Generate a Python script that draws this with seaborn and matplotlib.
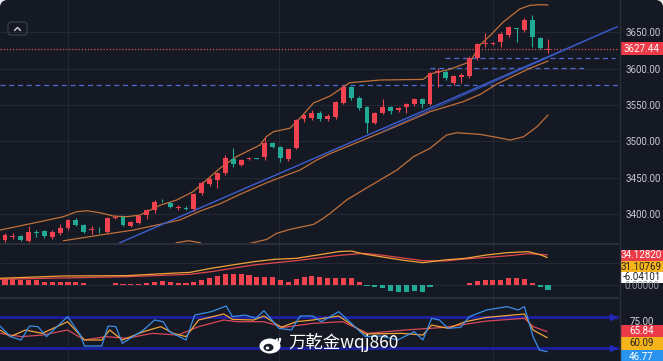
import numpy as np
import pandas as pd
import seaborn as sns
import matplotlib.pyplot as plt
from matplotlib.patches import Rectangle, FancyBboxPatch, Ellipse, Arc, Circle

W, H = 663, 361
BG = '#151924'
GRID = '#242834'
SEP = '#2a2e39'
UP = '#f0434f'
DOWN = '#22ab94'
BAND = '#c0703a'
TXT = '#c8cad0'

# candles, red = rising, green = falling
opens = [3364.1, 3369.0, 3369.6, 3363.2, 3375.2, 3376.5, 3368.7, 3373.3, 3380.2, 3391.7,
         3384.8, 3378.4, 3378.3, 3375.6, 3394.6, 3396.3, 3383.9, 3388.0, 3398.5, 3405.4,
         3418.2, 3415.5, 3408.8, 3408.2, 3406.3, 3428.4, 3441.2, 3446.7, 3455.9, 3475.1,
         3467.3, 3476.0, 3477.0, 3477.9, 3497.2, 3492.6, 3475.1, 3490.3, 3530.2, 3531.6,
         3538.4, 3530.2, 3533.0, 3553.1, 3574.2, 3560.0, 3546.7, 3525.6, 3538.4, 3546.7,
         3543.0, 3546.7, 3550.8, 3557.7, 3551.3, 3594.4, 3595.8, 3580.6, 3589.0, 3589.8,
         3614.1, 3634.0, 3633.8, 3637.1, 3646.2, 3655.8, 3653.1, 3666.9, 3642.6, 3625.6]
closes = [3371.0, 3370.0, 3364.1, 3375.6, 3374.4, 3369.6, 3375.6, 3381.1, 3391.7, 3384.8,
          3375.6, 3379.2, 3377.5, 3394.0, 3395.8, 3384.8, 3389.4, 3397.2, 3405.4, 3416.9,
          3417.4, 3409.1, 3409.6, 3407.3, 3427.0, 3442.1, 3448.1, 3455.9, 3476.5, 3468.7,
          3474.2, 3477.0, 3476.2, 3497.2, 3492.6, 3476.5, 3488.9, 3529.3, 3536.2, 3539.4,
          3530.6, 3534.8, 3554.5, 3574.2, 3559.1, 3545.3, 3524.7, 3539.4, 3546.7, 3542.1,
          3545.3, 3551.3, 3557.7, 3551.3, 3594.4, 3597.2, 3586.6, 3589.8, 3591.2, 3614.1,
          3633.9, 3635.2, 3634.8, 3647.6, 3656.8, 3655.0, 3666.9, 3643.0, 3628.8, 3627.44]
highs = [3373.3, 3374.5, 3371.0, 3383.4, 3378.0, 3378.5, 3378.0, 3386.2, 3393.0, 3394.0,
         3386.0, 3383.5, 3382.0, 3396.0, 3397.0, 3397.5, 3391.0, 3399.0, 3407.0, 3419.0,
         3421.0, 3417.0, 3412.5, 3411.0, 3429.0, 3445.5, 3451.0, 3458.0, 3481.0, 3490.3,
         3476.0, 3479.0, 3477.5, 3506.3, 3499.0, 3494.0, 3490.0, 3531.0, 3538.0, 3543.0,
         3542.0, 3537.0, 3556.0, 3577.0, 3576.0, 3562.0, 3548.0, 3541.0, 3557.7, 3548.0,
         3547.0, 3553.0, 3560.0, 3559.0, 3596.0, 3600.4, 3598.0, 3591.5, 3594.0, 3618.0,
         3635.5, 3648.5, 3636.5, 3650.0, 3659.0, 3656.5, 3669.0, 3673.8, 3644.0, 3640.3]
lows = [3361.8, 3365.0, 3362.5, 3361.0, 3367.8, 3367.0, 3366.0, 3371.0, 3378.0, 3383.0,
        3374.0, 3373.0, 3373.5, 3374.0, 3393.0, 3383.5, 3382.0, 3386.0, 3393.0, 3402.0,
        3416.0, 3408.0, 3405.5, 3406.0, 3404.0, 3426.0, 3439.0, 3435.2, 3454.0, 3465.1,
        3466.0, 3474.5, 3475.5, 3474.2, 3491.0, 3472.0, 3473.5, 3489.0, 3527.0, 3530.0,
        3528.5, 3528.0, 3531.0, 3551.0, 3557.5, 3543.0, 3510.9, 3524.0, 3537.0, 3538.0,
        3541.0, 3539.0, 3548.0, 3546.0, 3549.5, 3574.2, 3585.0, 3577.0, 3580.0, 3587.0,
        3612.0, 3630.2, 3632.5, 3630.2, 3644.0, 3637.1, 3651.0, 3629.3, 3627.5, 3621.0]

# bollinger bands read at sample points (bar index, price)
bb_up_x = [-0.64, 4.45, 7.41, 9.11, 10.4, 12.07, 13.77, 15.46, 17.15, 19.7, 21.8, 23.9, 27.3,
           29.4, 32.4, 33.2, 34.1, 36.2, 37.5, 39.2, 41.3, 43.8, 47.65, 53.15, 54.0, 56.5,
           59.1, 60.4, 61.6, 63.3, 65.4, 66.7, 68.0, 69.0]
bb_up_y = [3377.9, 3389.4, 3396.3, 3403.1, 3404.5, 3401.7, 3397.2, 3396.3, 3398.5, 3412.0,
           3419.2, 3430.7, 3462.8, 3478.8, 3494.9, 3506.3, 3513.2, 3517.9, 3532.0, 3552.7,
           3562.3, 3580.6, 3584.3, 3585.2, 3592.6, 3599.0, 3609.5, 3633.0, 3645.0, 3664.0,
           3682.0, 3687.0, 3688.0, 3687.5]
bb_mid_x = [7.41, 12.07, 16.3, 19.27, 22.2, 24.8, 27.3, 29.85, 33.25, 35.4, 37.5, 39.6, 41.3,
            45.5, 49.8, 54.0, 58.2, 60.4, 62.5, 64.6, 66.7, 69.0]
bb_mid_y = [3363.2, 3371.0, 3377.9, 3384.8, 3391.7, 3404.0, 3414.0, 3427.0, 3443.0, 3452.0,
            3460.5, 3474.2, 3483.0, 3501.7, 3521.0, 3540.7, 3554.5, 3564.6, 3578.8, 3589.8,
            3600.4, 3610.5]
bb_low_x = [20.5, 21.8, 23.3, 24.8, 26.0, 28.5, 31.1, 33.25, 34.5, 36.2, 39.2, 40.45, 41.3,
            43.4, 45.5, 47.65, 49.8, 51.9, 54.0, 55.3, 56.1, 57.4, 60.4, 62.5, 64.2, 65.9,
            67.6, 69.0]
bb_low_y = [3352.0, 3360.5, 3363.2, 3360.5, 3352.0, 3345.0, 3359.5, 3365.0, 3373.3, 3378.8,
            3385.7, 3394.0, 3400.8, 3419.2, 3433.0, 3446.7, 3460.5, 3478.8, 3490.3, 3501.7,
            3508.6, 3511.8, 3509.5, 3505.4, 3501.7, 3506.3, 3520.1, 3536.2]

trend_x = [14.4, 77.8]
trend_y = [3359.5, 3657.7]
trend2_x = [48.0, 77.8]
trend2_y = [3514.0, 3657.7]

last_price = 3627.44
price_ticks = [3400, 3450, 3500, 3550, 3600, 3650]

# MACD
macd_hist = [7.2, 7.2, 5.7, 5.7, 5.7, 3.8, 3.8, 3.8, 3.8, 3.8,
             1.9, 0.4, -0.3, 0.4, 1.9, 0.8, 0.8, 0.8, 1.9, 3.8,
             4.5, 3.8, 1.9, 1.9, 3.4, 5.7, 7.6, 10.2, 12.1, 12.1,
             12.1, 11.3, 9.5, 9.5, 9.5, 5.7, 3.8, 6.4, 9.5, 10.2,
             9.5, 7.6, 7.6, 8.3, 7.6, 3.8, -1.1, -1.9, -3.8, -6.8,
             -7.6, -7.6, -6.8, -7.6, -1.9, -0.4, -0.4, -0.2, 0.4, 1.9,
             4.5, 5.7, 5.7, 5.7, 7.6, 7.6, 6.4, 2.6, -1.9, -6.04101]
dif_x = [-0.64, 7.42, 15.5, 20.9, 23.5, 26.2, 28.9, 31.6, 34.3, 37.0, 39.7, 42.4, 44.0, 45.6,
         47.7, 50.4, 53.1, 55.8, 58.5, 61.2, 63.8, 66.5, 68.1, 68.9]
dif_y = [7.6, 10.2, 10.6, 13.2, 14.3, 18.9, 22.7, 26.4, 29.1, 30.2, 34.0, 37.8, 38.5, 35.1,
         32.1, 28.3, 25.3, 28.3, 30.2, 34.0, 36.6, 37.8, 34.0, 31.10769]
dea_x = [-0.64, 15.5, 23.5, 26.2, 31.6, 37.0, 42.4, 45.6, 47.7, 53.1, 55.8, 58.5, 63.8, 66.5, 68.9]
dea_y = [6.5, 9.4, 12.1, 15.1, 22.7, 27.6, 33.5, 35.9, 34.0, 27.6, 27.2, 29.5, 33.0, 35.5, 34.1282]

# KDJ
j_x = [-0.64, 0.71, 2.05, 3.12, 4.2, 5.27, 7.96, 9.57, 10.1, 12.3, 13.1, 14.1, 14.9, 17.6, 19.0,
       20.1, 20.9, 23.0, 24.1, 26.2, 28.1, 28.9, 30.5, 31.9, 32.9, 34.8, 36.4, 37.5, 39.1, 40.2,
       42.4, 44.0, 45.8, 47.7, 49.9, 52.0, 53.1, 54.2, 55.2, 56.3, 57.9, 59.0, 61.2, 63.8, 65.2,
       66.0, 67.1, 67.9, 68.9]
j_y = [71.2, 61.1, 57.9, 71.2, 70.6, 61.1, 80.1, 62.6, 52.2, 52.2, 71.2, 70.6, 54.7, 67.4, 76.9,
       75.3, 65.8, 57.9, 81.6, 84.8, 90.2, 80.1, 81.6, 78.5, 85.8, 69.0, 67.4, 80.7, 80.7, 75.3,
       84.8, 73.7, 61.1, 61.7, 57.9, 65.8, 57.9, 78.5, 76.9, 69.0, 69.9, 80.1, 86.4, 89.6, 86.4,
       89.6, 61.1, 48.4, 46.77]
k_x = [-0.64, 0.71, 2.59, 4.74, 7.96, 10.1, 12.3, 13.3, 14.9, 17.6, 19.8, 21.4, 23.0, 24.6, 27.8,
       28.9, 31.6, 32.9, 35.1, 37.0, 39.1, 42.4, 45.8, 50.4, 53.1, 54.2, 56.3, 58.5, 61.2, 66.0,
       67.1, 68.9]
k_y = [67.4, 61.1, 67.4, 64.2, 75.3, 57.9, 57.9, 67.4, 57.9, 65.8, 70.6, 64.2, 61.1, 76.9, 82.6,
       77.5, 76.9, 80.7, 69.9, 75.3, 76.9, 80.7, 63.6, 64.2, 62.6, 72.1, 69.0, 75.3, 79.4, 82.6,
       67.4, 60.09]
d_x = [-0.64, 2.05, 4.74, 7.96, 10.1, 12.8, 15.5, 18.7, 22.0, 24.6, 27.8, 29.5, 32.9, 35.4, 39.1,
       42.9, 46.1, 50.9, 55.8, 61.2, 66.0, 67.1, 68.9]
d_y = [64.2, 61.1, 62.6, 67.4, 57.9, 61.1, 59.5, 64.2, 62.6, 70.6, 76.9, 75.3, 75.3, 69.9, 73.7,
       75.3, 64.2, 67.4, 69.9, 75.9, 78.5, 70.6, 65.84]
kdj_levels = [80, 50]

sns.set_theme(style='dark', rc={'axes.facecolor': BG, 'figure.facecolor': BG})
plt.rcParams['font.family'] = ['Roboto', 'Noto Sans CJK SC', 'DejaVu Sans']

df = pd.DataFrame({'open': opens, 'high': highs, 'low': lows, 'close': closes})
df['idx'] = np.arange(len(df))
df['up'] = df['close'] >= df['open']


def px_to_idx(x):
    return (x - 5) / 7.87


fig = plt.figure(figsize=(W / 100, H / 100), dpi=100)
ax = fig.add_axes([0, 118 / H, 619 / W, 243 / H])
ax_m = fig.add_axes([0, 64 / H, 619 / W, 52 / H])
ax_k = fig.add_axes([0, 0, 619 / W, 62 / H])
xlim = (px_to_idx(0), px_to_idx(619))

# ---- main price panel
for yv in price_ticks:
    ax.axhline(yv, color=GRID, lw=0.8, zorder=0)
for a in (ax, ax_m, ax_k):
    for xv in (8.0, 34.8, 62.0):
        a.axvline(xv, color=GRID, lw=0.8, zorder=0)

ax.axhline(last_price, color='#d9534f', lw=0.9, ls=(0, (1, 1.5)), zorder=1)
ax.axhline(3577.5, color='#4d6bd0', lw=0.9, ls=(0, (4, 3)), zorder=1)
ax.hlines(3615, px_to_idx(445), px_to_idx(615), color='#4d6bd0', lw=0.9, ls=(0, (4, 3)), zorder=1)
ax.hlines(3600.5, px_to_idx(430), px_to_idx(585), color='#4d6bd0', lw=0.9, ls=(0, (4, 3)), zorder=1)

sns.lineplot(x=bb_up_x, y=bb_up_y, ax=ax, color=BAND, lw=0.9, estimator=None, sort=False)
sns.lineplot(x=bb_mid_x, y=bb_mid_y, ax=ax, color=BAND, lw=0.9, estimator=None, sort=False)
sns.lineplot(x=bb_low_x, y=bb_low_y, ax=ax, color=BAND, lw=0.9, estimator=None, sort=False)
sns.lineplot(x=trend_x, y=trend_y, ax=ax, color='#3f5fd0', lw=1.0, estimator=None, sort=False)
sns.lineplot(x=trend2_x, y=trend2_y, ax=ax, color='#3552b8', lw=0.7, estimator=None, sort=False)

colors = np.where(df['up'], UP, DOWN)
ax.vlines(df['idx'], df['low'], df['high'], colors=colors, lw=0.8, zorder=3)
body = (df['close'] - df['open']).abs().clip(lower=0.9)
ax.bar(df['idx'], body, bottom=df[['open', 'close']].min(axis=1), width=0.62,
       color=colors, zorder=4, linewidth=0)

ax.set_xlim(*xlim)
ax.set_ylim(3360.1, 3694.4)
ax.yaxis.tick_right()
ax.set_yticks(price_ticks)
ax.set_yticklabels([f'{v:.2f}' for v in price_ticks])
ax.tick_params(axis='y', length=0, pad=5, labelsize=7, labelcolor=TXT)
ax.set_xticks([])
ax.set_xlabel('')
ax.set_ylabel('')

# ---- MACD panel
ax_m.axhline(0, color=GRID, lw=0.8, zorder=0)
ax_m.axhline(25, color=GRID, lw=0.8, zorder=0)
hist_colors = [UP if v >= 0 else DOWN for v in macd_hist]
ax_m.bar(np.arange(len(macd_hist)), macd_hist, width=0.65, color=hist_colors, linewidth=0, zorder=2)
sns.lineplot(x=dea_x, y=dea_y, ax=ax_m, color='#e0484d', lw=0.9, estimator=None, sort=False)
sns.lineplot(x=dif_x, y=dif_y, ax=ax_m, color='#f2a33a', lw=0.9, estimator=None, sort=False)
ax_m.set_xlim(*xlim)
ax_m.set_ylim(-13.6, 45.3)

# ---- KDJ panel
for lv in kdj_levels:
    ax_k.axhline(lv, color='#1b2098', lw=2.2, zorder=1)
    ax_k.plot([px_to_idx(613)], [lv], marker='>', ms=4, color='#2328b8', zorder=2)
sns.lineplot(x=d_x, y=d_y, ax=ax_k, color='#d9485a', lw=0.9, estimator=None, sort=False)
sns.lineplot(x=k_x, y=k_y, ax=ax_k, color='#f2a33a', lw=0.9, estimator=None, sort=False)
sns.lineplot(x=j_x, y=j_y, ax=ax_k, color='#3a8ee8', lw=0.9, estimator=None, sort=False)
ax_k.set_xlim(*xlim)
ax_k.set_ylim(37.95, 96.85)

for a in (ax, ax_m, ax_k):
    for s in a.spines.values():
        s.set_visible(False)
for a in (ax_m, ax_k):
    a.set_xticks([])
    a.set_yticks([])
    a.set_xlabel('')
    a.set_ylabel('')

# ---- overlay in pixel coordinates
ov = fig.add_axes([0, 0, 1, 1], zorder=10)
ov.set_xlim(0, W)
ov.set_ylim(H, 0)
ov.axis('off')
ov.patch.set_alpha(0)

ov.add_patch(Rectangle((0, 243), 619, 2, color=SEP, lw=0))
ov.add_patch(Rectangle((0, 297), 619, 2, color=SEP, lw=0))
ov.plot([619.5, 619.5], [0, H], color=SEP, lw=1)


def label_box(y0, y1, text, fc, tc='white'):
    ov.add_patch(Rectangle((620, y0), 43, y1 - y0, color=fc, lw=0))
    ov.text(641.5, (y0 + y1) / 2, text, color=tc, fontsize=7, ha='center', va='center',
            family='Roboto')


label_box(42, 55, f'{last_price:.2f}', '#eb3a48')
ov.text(641.5, 286, '0.00000', color='#9598a1', fontsize=7, ha='center', va='center')
label_box(250, 261, '34.12820', '#eb3a48')
label_box(261, 272, '31.10769', '#f5b31c', tc='#222222')
label_box(272, 283, '-6.04101', '#ffffff', tc='#222222')
ov.text(641.5, 322, '75.00', color='#d1d4dc', fontsize=7, ha='center', va='center')
label_box(325, 337, '65.84', '#eb3a48')
label_box(337, 350, '60.09', '#f5b31c', tc='#222222')
label_box(350, 363, '46.77', '#2a93f0')

# collapse button top left
ov.add_patch(FancyBboxPatch((8, 22), 19, 13, boxstyle='round,pad=0,rounding_size=3',
                            ec='#3b3f4b', fc='none', lw=0.9))
ov.plot([14.5, 17.5, 20.5], [30.5, 27.5, 30.5], color='#d1d4dc', lw=1)

# rounded screenshot corners
for cx in (0, W - 7):
    ov.add_patch(Rectangle((cx, 0), 7, 7, color='#e8e8ea', lw=0))
ov.add_patch(Circle((7, 7), 7, color=BG, lw=0))
ov.add_patch(Circle((W - 7, 7), 7, color=BG, lw=0))

# watermark
ov.add_patch(Ellipse((270, 346), 21, 15, color='white', lw=0))
ov.add_patch(Ellipse((268.5, 347.5), 10, 7.5, color='#1b1e28', lw=0))
ov.add_patch(Ellipse((267.5, 348), 3.5, 3, color='white', lw=0))
ov.add_patch(Arc((274, 339), 12, 12, theta1=-10, theta2=95, color='white', lw=1.6))
ov.add_patch(Arc((274, 339), 6, 6, theta1=-10, theta2=95, color='white', lw=1.4))
ov.text(288, 343, '万乾金wqj860', color='white', fontsize=12.5, ha='left', va='center',
        family=['Noto Sans CJK SC', 'DejaVu Sans'])

fig.savefig('out.png', dpi=100, facecolor=BG)
